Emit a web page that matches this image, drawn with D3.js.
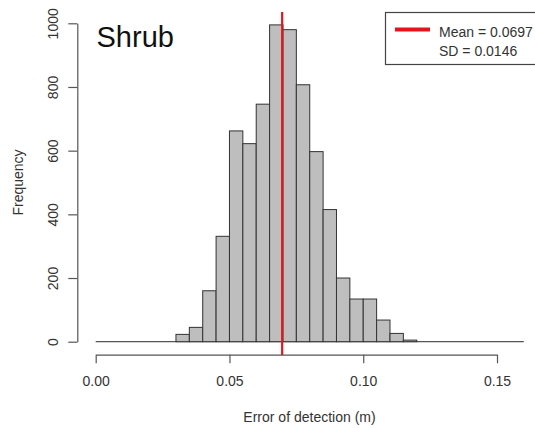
<!DOCTYPE html>
<html>
<head>
<meta charset="utf-8">
<script src="https://cdn.jsdelivr.net/npm/d3@7"></script>
<style>
  html, body { margin: 0; padding: 0; background: #fff; }
  svg { display: block; font-family: "Liberation Sans", Arial, sans-serif; }
</style>
</head>
<body>
<svg id="chart" width="535" height="428"></svg>
<script>
// ---- data ----
const binStarts = [0.000, 0.005, 0.010, 0.015, 0.020, 0.025, 0.030, 0.035, 0.040, 0.045,
                   0.050, 0.055, 0.060, 0.065, 0.070, 0.075, 0.080, 0.085, 0.090, 0.095,
                   0.100, 0.105, 0.110, 0.115, 0.120, 0.125, 0.130, 0.135, 0.140, 0.145,
                   0.150, 0.155];
const binWidth = 0.005;
const counts = [0, 0, 0, 0, 0, 0, 23, 45, 160, 331,
                662, 622, 746, 995, 980, 807, 597, 415, 200, 134,
                134, 68, 26, 5, 0, 0, 0, 0, 0, 0,
                0, 0];
const xTicks = [0, 0.05, 0.10, 0.15];
const yTicks = [0, 200, 400, 600, 800, 1000];
const meanValue = 0.0697;
const sdValue = 0.0146;
const title = "Shrub";
const xLabel = "Error of detection (m)";
const yLabel = "Frequency";
const legendLabels = ["Mean = 0.0697", "SD = 0.0146"];

// ---- layout ----
const svg = d3.select("#chart");
const x = d3.scaleLinear().domain([0, 0.15]).range([95.7, 497]);
const y = d3.scaleLinear().domain([0, 1000]).range([341.7, 23.3]);
const plotTop = 12, plotBottom = 355;
const axisColor = "#555";
const textColor = "#333";

const bins = binStarts.map((s, i) => ({ x0: s, x1: s + binWidth, n: counts[i] }));

// baseline (zero-height bins drawn as a line, as in R)
svg.append("line")
  .attr("x1", x(binStarts[0])).attr("x2", x(binStarts[binStarts.length - 1] + binWidth))
  .attr("y1", y(0)).attr("y2", y(0))
  .attr("stroke", "#555").attr("stroke-width", 1.2);

// bars
svg.append("g").selectAll("rect")
  .data(bins.filter(d => d.n > 0))
  .join("rect")
  .attr("x", d => x(d.x0))
  .attr("y", d => y(d.n))
  .attr("width", d => x(d.x1) - x(d.x0))
  .attr("height", d => y(0) - y(d.n))
  .attr("fill", "#bebebe")
  .attr("stroke", "#333")
  .attr("stroke-width", 1);

// mean line
svg.append("line")
  .attr("x1", x(meanValue)).attr("x2", x(meanValue))
  .attr("y1", plotTop).attr("y2", plotBottom)
  .attr("stroke", "#e3141c").attr("stroke-width", 2.2);

// x axis
const xAxis = svg.append("g")
  .attr("transform", "translate(0,354.7)")
  .call(d3.axisBottom(x).tickValues(xTicks).tickFormat(d3.format(".2f"))
        .tickSize(8.6).tickSizeOuter(0).tickPadding(12.8));
xAxis.select(".domain").attr("stroke", axisColor).attr("stroke-width", 1.2);
xAxis.selectAll(".tick line").attr("stroke", axisColor).attr("stroke-width", 1.2);
xAxis.selectAll(".tick text").attr("fill", textColor).attr("font-size", 14)
  .attr("font-family", "Liberation Sans, Arial, sans-serif");

// y axis
const yAxis = svg.append("g")
  .attr("transform", "translate(77.3,0)")
  .call(d3.axisLeft(y).tickValues(yTicks).tickFormat(d3.format("d"))
        .tickSize(9).tickSizeOuter(0));
yAxis.select(".domain").attr("stroke", axisColor).attr("stroke-width", 1.2);
yAxis.selectAll(".tick line").attr("stroke", axisColor).attr("stroke-width", 1.2);
yAxis.selectAll(".tick text")
  .attr("x", null).attr("dy", null)
  .attr("transform", "translate(-19.3,0) rotate(-90)")
  .attr("text-anchor", "middle")
  .attr("fill", textColor).attr("font-size", 14)
  .attr("font-family", "Liberation Sans, Arial, sans-serif");

// axis labels
svg.append("text")
  .attr("x", 309.5).attr("y", 422)
  .attr("text-anchor", "middle")
  .attr("font-size", 14).attr("fill", textColor)
  .text(xLabel);
svg.append("text")
  .attr("transform", "translate(22.5,182.5) rotate(-90)")
  .attr("text-anchor", "middle")
  .attr("font-size", 14).attr("fill", textColor)
  .text(yLabel);

// title inside plot
svg.append("text")
  .attr("x", 96.5).attr("y", 47)
  .attr("font-size", 29).attr("fill", "#111")
  .text(title);

// legend
const lg = svg.append("g");
lg.append("rect")
  .attr("x", 385.5).attr("y", 12.5).attr("width", 160).attr("height", 52)
  .attr("fill", "#fff").attr("stroke", "#444").attr("stroke-width", 1.2);
lg.append("line")
  .attr("x1", 395).attr("x2", 430).attr("y1", 29.5).attr("y2", 29.5)
  .attr("stroke", "#e3141c").attr("stroke-width", 4);
lg.selectAll("text.leg")
  .data(legendLabels)
  .join("text")
  .attr("class", "leg")
  .attr("x", 439)
  .attr("y", (d, i) => 37 + i * 18.5)
  .attr("font-size", 14).attr("fill", textColor)
  .text(d => d);
</script>
</body>
</html>
